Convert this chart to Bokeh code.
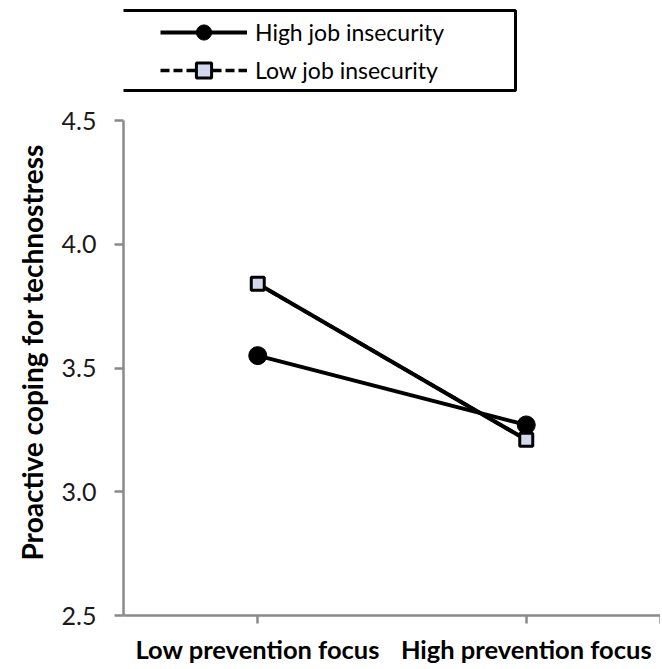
from bokeh.plotting import figure
from bokeh.models import (ColumnDataSource, Range1d, FixedTicker, Legend, LegendItem,
                          NumeralTickFormatter, BoxAnnotation, Title)
from bokeh.embed import file_html
from bokeh.resources import INLINE

categories = ["Low prevention focus", "High prevention focus"]
high_insecurity = [3.55, 3.27]
low_insecurity = [3.84, 3.21]
y_ticks = [2.5, 3.0, 3.5, 4.0, 4.5]
y_title = "Proactive coping for technostress"

xpos = [i + 0.5 for i in range(len(categories))]

FONT = "Lato"
AXIS_GRAY = "#8a8a8a"
SQ_FILL = "#d3d8ee"

# layout (pixels)
W, H = 660, 667
LEFT, BOTTOM = 123, 52
Y_TOP_PX = 120          # pixel row of the top tick (4.5)
frame_h = H - BOTTOM
frame_w = W - LEFT
px_per_unit = (frame_h - Y_TOP_PX) / (y_ticks[-1] - y_ticks[0])
y_end = y_ticks[-1] + Y_TOP_PX / px_per_unit

p = figure(width=W, height=H, output_backend="svg", toolbar_location=None,
           x_range=Range1d(0, len(categories)), y_range=Range1d(y_ticks[0], y_end),
           min_border_left=LEFT, min_border_top=0, min_border_bottom=BOTTOM,
           min_border_right=0)
p.outline_line_color = None
p.grid.visible = False

# legend frame box (pixel -> data conversion)
def px_to_x(px):
    return (px - LEFT) / frame_w * len(categories)

def px_to_y(py):
    return y_end - py / px_per_unit

box = BoxAnnotation(left=px_to_x(121), right=px_to_x(515), top=px_to_y(10),
                    bottom=px_to_y(90), fill_color="white", fill_alpha=1,
                    line_color="black", line_alpha=1, line_width=3, level="underlay")
p.add_layout(box)

src_h = ColumnDataSource(dict(x=xpos, y=high_insecurity))
src_l = ColumnDataSource(dict(x=xpos, y=low_insecurity))

# dashed line used for the legend sample; hidden under the solid line in the plot
ll = p.line("x", "y", source=src_l, line_color="black", line_width=3.5, line_dash="9 4")
p.line("x", "y", source=src_l, line_color="black", line_width=4)
lh = p.line("x", "y", source=src_h, line_color="black", line_width=4)
mh = p.scatter("x", "y", source=src_h, marker="circle", size=18, fill_color="black",
               line_color="black")
ml = p.scatter("x", "y", source=src_l, marker="square", size=13, fill_color=SQ_FILL,
               line_color="black", line_width=3)

legend = Legend(items=[LegendItem(label="High job insecurity", renderers=[lh, mh]),
                       LegendItem(label="Low job insecurity", renderers=[ll, ml])],
                location=(160 - LEFT, frame_h - 89))
legend.label_text_font = FONT
legend.label_text_font_size = "23px"
legend.label_text_color = "black"
legend.glyph_width = 87
legend.glyph_height = 38
legend.label_height = 38
legend.label_standoff = 8
legend.spacing = 0
legend.padding = 0
legend.margin = 0
legend.border_line_color = None
legend.background_fill_alpha = 0
p.add_layout(legend, "center")

# y axis
ya = p.yaxis[0]
ya.ticker = FixedTicker(ticks=y_ticks)
ya.bounds = (y_ticks[0], y_ticks[-1])
ya.formatter = NumeralTickFormatter(format="0.0")
ya.major_label_text_font = FONT
ya.major_label_text_font_size = "25px"
ya.major_label_text_color = "#1a1a1a"
ya.axis_line_color = AXIS_GRAY
ya.axis_line_width = 2.5
ya.major_tick_line_color = AXIS_GRAY
ya.major_tick_line_width = 2.5
ya.major_tick_out = 9
ya.major_tick_in = 0
ya.minor_tick_line_color = None
ya.major_label_standoff = 18

# y axis title, placed along the plotted range (2.5 .. 4.5)
yt = Title(text=y_title, align="left", offset=55, text_font=FONT,
           text_font_style="bold", text_font_size="28px", text_color="black",
           standoff=20)
p.add_layout(yt, "left")

# x axis
xa = p.xaxis[0]
xa.ticker = FixedTicker(ticks=xpos + [len(categories)])
overrides = {x: c for x, c in zip(xpos, categories)}
overrides[len(categories)] = ""
xa.major_label_overrides = overrides
xa.major_label_text_font = FONT
xa.major_label_text_font_style = "bold"
xa.major_label_text_font_size = "25.5px"
xa.major_label_text_color = "black"
xa.major_label_standoff = 10
xa.axis_line_color = AXIS_GRAY
xa.axis_line_width = 2.5
xa.major_tick_line_color = AXIS_GRAY
xa.major_tick_line_width = 2.5
xa.major_tick_out = 8
xa.major_tick_in = 0
xa.minor_tick_line_color = None

open("out.html", "w").write(file_html(p, INLINE))
